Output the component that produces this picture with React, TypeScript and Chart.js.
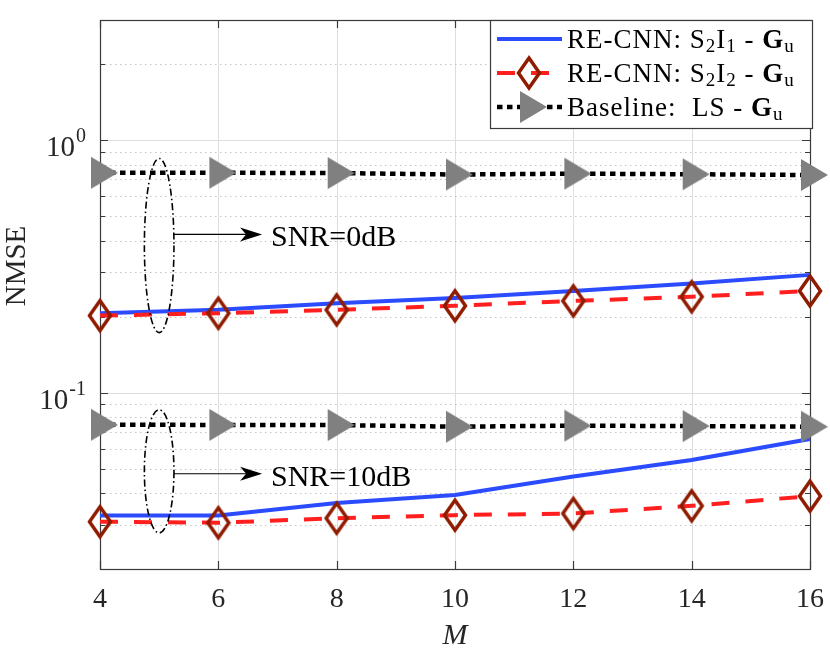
import React, { useEffect, useRef } from 'react';
import { Chart, registerables } from 'chart.js';

Chart.register(...registerables);

// antennas M
const antennas = [4, 6, 8, 10, 12, 14, 16];

// SNR = 0 dB
const s2i1Snr0 = [0.2065, 0.213, 0.226, 0.237, 0.253, 0.271, 0.293];
const s2i2Snr0 = [0.202, 0.2065, 0.213, 0.221, 0.231, 0.24, 0.253];
const lsSnr0 = [0.744, 0.744, 0.742, 0.732, 0.738, 0.734, 0.729];

// SNR = 10 dB
const s2i1Snr10 = [0.0326, 0.0326, 0.0365, 0.0393, 0.0465, 0.0541, 0.0655];
const s2i2Snr10 = [0.0308, 0.0305, 0.0318, 0.0327, 0.0332, 0.0356, 0.0389];
const lsSnr10 = [0.0746, 0.0745, 0.0744, 0.0733, 0.074, 0.0737, 0.0733];

// axes
const xTicks = [4, 6, 8, 10, 12, 14, 16];
const yMajorTicks = [0.1, 1];
const yTickExponents = ['-1', '0'];
const yMinorTicks = [0.03, 0.04, 0.05, 0.06, 0.07, 0.08, 0.09, 0.2, 0.3, 0.4, 0.5, 0.6, 0.7, 0.8, 0.9, 2];

// SNR annotations (ellipse spans + arrow level, in NMSE)
const snrLabels = ['SNR=0dB', 'SNR=10dB'];
const ellipseTop = [0.848, 0.0856];
const ellipseBottom = [0.173, 0.0278];
const arrowLevel = [0.424, 0.0477];

const FONT = '"Liberation Serif", "Times New Roman", serif';
const BLUE = '#2b4bff';
const RED = '#ff1f1f';
const DIAMOND = '#8f1c00';
const GRAY = '#808080';
const AXIS = '#3a3a3a';
const TEXT = '#262626';

function makeDiamond(): HTMLCanvasElement {
  const c = document.createElement('canvas');
  c.width = 32;
  c.height = 42;
  const g = c.getContext('2d')!;
  g.strokeStyle = DIAMOND;
  g.lineWidth = 3.5;
  g.beginPath();
  g.moveTo(16, 6);
  g.lineTo(26.5, 21);
  g.lineTo(16, 36);
  g.lineTo(5.5, 21);
  g.closePath();
  g.stroke();
  return c;
}

function makeTriangle(): HTMLCanvasElement {
  const c = document.createElement('canvas');
  c.width = 36;
  c.height = 36;
  const g = c.getContext('2d')!;
  g.fillStyle = GRAY;
  g.beginPath();
  g.moveTo(9, 2);
  g.lineTo(36, 18);
  g.lineTo(9, 34);
  g.closePath();
  g.fill();
  return c;
}

const pts = (ys: number[]) => antennas.map((m, i) => ({ x: m, y: ys[i] }));

const App: React.FC = () => {
  const canvasRef = useRef<HTMLCanvasElement>(null);

  useEffect(() => {
    if (!canvasRef.current) return;
    const diamond = makeDiamond();
    const triangle = makeTriangle();

    const px = (v: number) => Math.round(v) + 0.5;

    const axesPlugin = {
      id: 'matlabAxes',
      beforeDatasetsDraw(chart: any) {
        const { ctx, chartArea: a, scales } = chart;
        const xs = scales.x;
        const ys = scales.y;
        ctx.save();

        // grid
        ctx.lineWidth = 1;
        ctx.strokeStyle = '#dedede';
        ctx.setLineDash([]);
        xTicks.slice(1, -1).forEach((t) => {
          const x = px(xs.getPixelForValue(t));
          ctx.beginPath();
          ctx.moveTo(x, a.top);
          ctx.lineTo(x, a.bottom);
          ctx.stroke();
        });
        yMajorTicks.forEach((v) => {
          const y = px(ys.getPixelForValue(v));
          ctx.beginPath();
          ctx.moveTo(a.left, y);
          ctx.lineTo(a.right, y);
          ctx.stroke();
        });
        ctx.strokeStyle = '#c4c4c4';
        ctx.setLineDash([1.5, 3.5]);
        yMinorTicks.forEach((v) => {
          const y = px(ys.getPixelForValue(v));
          ctx.beginPath();
          ctx.moveTo(a.left, y);
          ctx.lineTo(a.right, y);
          ctx.stroke();
        });

        // box and ticks
        ctx.setLineDash([]);
        ctx.strokeStyle = AXIS;
        ctx.lineWidth = 1.2;
        ctx.strokeRect(px(a.left), px(a.top), Math.round(a.right - a.left), Math.round(a.bottom - a.top));
        ctx.beginPath();
        xTicks.forEach((t) => {
          const x = px(xs.getPixelForValue(t));
          ctx.moveTo(x, a.bottom);
          ctx.lineTo(x, a.bottom - 8);
          ctx.moveTo(x, a.top);
          ctx.lineTo(x, a.top + 8);
        });
        yMajorTicks.forEach((v) => {
          const y = px(ys.getPixelForValue(v));
          ctx.moveTo(a.left, y);
          ctx.lineTo(a.left + 8, y);
          ctx.moveTo(a.right, y);
          ctx.lineTo(a.right - 8, y);
        });
        yMinorTicks.forEach((v) => {
          const y = px(ys.getPixelForValue(v));
          ctx.moveTo(a.left, y);
          ctx.lineTo(a.left + 5, y);
          ctx.moveTo(a.right, y);
          ctx.lineTo(a.right - 5, y);
        });
        ctx.stroke();

        // tick labels
        ctx.fillStyle = TEXT;
        ctx.textBaseline = 'alphabetic';
        ctx.font = `28px ${FONT}`;
        ctx.textAlign = 'center';
        xTicks.forEach((t) => {
          ctx.fillText(String(t), xs.getPixelForValue(t), a.bottom + 38);
        });
        ctx.textAlign = 'left';
        yMajorTicks.forEach((v, i) => {
          const y = ys.getPixelForValue(v);
          ctx.font = `20px ${FONT}`;
          const supW = ctx.measureText(yTickExponents[i]).width;
          ctx.font = `29px ${FONT}`;
          const baseW = ctx.measureText('10').width;
          const right = a.left - 14;
          ctx.fillText('10', right - supW - baseW - 1, y + 16);
          ctx.font = `20px ${FONT}`;
          ctx.fillText(yTickExponents[i], right - supW, y + 2);
        });

        // axis titles
        ctx.font = `italic 30px ${FONT}`;
        ctx.textAlign = 'center';
        ctx.fillText('M', xs.getPixelForValue(10), a.bottom + 75);
        ctx.save();
        ctx.translate(15, 266);
        ctx.rotate(-Math.PI / 2);
        ctx.font = `29px ${FONT}`;
        ctx.fillText('NMSE', 0, 10);
        ctx.restore();

        ctx.restore();
      },
      afterDatasetsDraw(chart: any) {
        const { ctx, scales } = chart;
        const xs = scales.x;
        const ys = scales.y;
        ctx.save();

        // SNR ellipses and arrows
        const cx = xs.getPixelForValue(5);
        const rx = xs.getPixelForValue(5.25) - cx;
        const tipX = xs.getPixelForValue(6.74);
        const textX = xs.getPixelForValue(6.89);
        snrLabels.forEach((label, i) => {
          const top = ys.getPixelForValue(ellipseTop[i]);
          const bot = ys.getPixelForValue(ellipseBottom[i]);
          ctx.strokeStyle = '#000';
          ctx.lineWidth = 1.6;
          ctx.setLineDash([7, 3, 1.5, 3]);
          ctx.beginPath();
          ctx.ellipse(cx, (top + bot) / 2, rx, (bot - top) / 2, 0, 0, Math.PI * 2);
          ctx.stroke();

          const ay = ys.getPixelForValue(arrowLevel[i]);
          ctx.setLineDash([]);
          ctx.lineWidth = 1.2;
          ctx.beginPath();
          ctx.moveTo(cx + rx, ay);
          ctx.lineTo(tipX - 6, ay);
          ctx.stroke();
          ctx.fillStyle = '#000';
          ctx.beginPath();
          ctx.moveTo(tipX, ay);
          ctx.lineTo(tipX - 22, ay - 7);
          ctx.lineTo(tipX - 16, ay);
          ctx.lineTo(tipX - 22, ay + 7);
          ctx.closePath();
          ctx.fill();

          ctx.font = `30px ${FONT}`;
          ctx.textAlign = 'left';
          ctx.textBaseline = 'alphabetic';
          ctx.fillText(label, textX, ay + 12);
        });

        // legend
        const lx = 490;
        const ly = 20;
        const lw = 322;
        const lh = 108;
        ctx.fillStyle = '#fff';
        ctx.fillRect(lx, ly, lw, lh);
        ctx.strokeStyle = AXIS;
        ctx.lineWidth = 1.2;
        ctx.strokeRect(lx + 0.5, ly + 0.5, lw, lh);

        const rows: [string, string][][] = [
          [['RE-CNN: S', 'n'], ['2', 's'], ['I', 'n'], ['1', 's'], [' - ', 'n'], ['G', 'b'], ['u', 's']],
          [['RE-CNN: S', 'n'], ['2', 's'], ['I', 'n'], ['2', 's'], [' - ', 'n'], ['G', 'b'], ['u', 's']],
          [['Baseline:  LS - ', 'n'], ['G', 'b'], ['u', 's']],
        ];
        const rowY = [39, 73, 107];
        const ds = chart.data.datasets;
        rows.forEach((segs, i) => {
          const y = rowY[i];
          const set = ds[i];
          ctx.save();
          ctx.strokeStyle = set.borderColor;
          ctx.lineWidth = set.borderWidth;
          ctx.setLineDash(set.borderDash || []);
          ctx.beginPath();
          ctx.moveTo(497, y);
          ctx.lineTo(562, y);
          ctx.stroke();
          ctx.restore();
          if (set.pointStyle instanceof HTMLCanvasElement) {
            const img = set.pointStyle as HTMLCanvasElement;
            ctx.drawImage(img, 529 - img.width / 2, y - img.height / 2);
          }
          let tx = 567;
          ctx.fillStyle = '#000';
          ctx.textAlign = 'left';
          (ctx as any).letterSpacing = '1px';
          segs.forEach(([s, kind]) => {
            if (kind === 's') {
              ctx.font = `19px ${FONT}`;
              ctx.fillText(s, tx, y + 13);
            } else {
              ctx.font = kind === 'b' ? `bold 27px ${FONT}` : `27px ${FONT}`;
              ctx.fillText(s, tx, y + 9);
            }
            tx += ctx.measureText(s).width;
          });
          (ctx as any).letterSpacing = '0px';
        });

        ctx.restore();
      },
    };

    const chart = new Chart(canvasRef.current, {
      type: 'line',
      data: {
        datasets: [
          { data: pts(s2i1Snr0), borderColor: BLUE, borderWidth: 4, pointRadius: 0, order: 3, clip: false },
          { data: pts(s2i2Snr0), borderColor: RED, borderWidth: 4, borderDash: [18, 16], pointStyle: diamond, pointRadius: 12, order: 2, clip: false },
          { data: pts(lsSnr0), borderColor: '#000', borderWidth: 4.5, borderDash: [5.5, 4.5], pointStyle: triangle, pointRadius: 12, order: 1, clip: false },
          { data: pts(s2i1Snr10), borderColor: BLUE, borderWidth: 4, pointRadius: 0, order: 3, clip: false },
          { data: pts(s2i2Snr10), borderColor: RED, borderWidth: 4, borderDash: [18, 16], pointStyle: diamond, pointRadius: 12, order: 2, clip: false },
          { data: pts(lsSnr10), borderColor: '#000', borderWidth: 4.5, borderDash: [5.5, 4.5], pointStyle: triangle, pointRadius: 12, order: 1, clip: false },
        ] as any,
      },
      options: {
        animation: false,
        responsive: false,
        events: [],
        layout: { padding: { left: 100, right: 20, top: 20, bottom: 82 } },
        elements: { line: { tension: 0, borderCapStyle: 'butt' } },
        scales: {
          x: { type: 'linear', min: 4, max: 16, display: false },
          y: { type: 'logarithmic', min: 0.02, max: 3, display: false },
        },
        plugins: { legend: { display: false }, tooltip: { enabled: false } },
      },
      plugins: [axesPlugin],
    });

    return () => {
      chart.destroy();
    };
  }, []);

  return (
    <div style={{ position: 'absolute', left: 0, top: 0, width: 830, height: 651, background: '#fff' }}>
      <canvas ref={canvasRef} width={830} height={651} />
    </div>
  );
};

export default App;
